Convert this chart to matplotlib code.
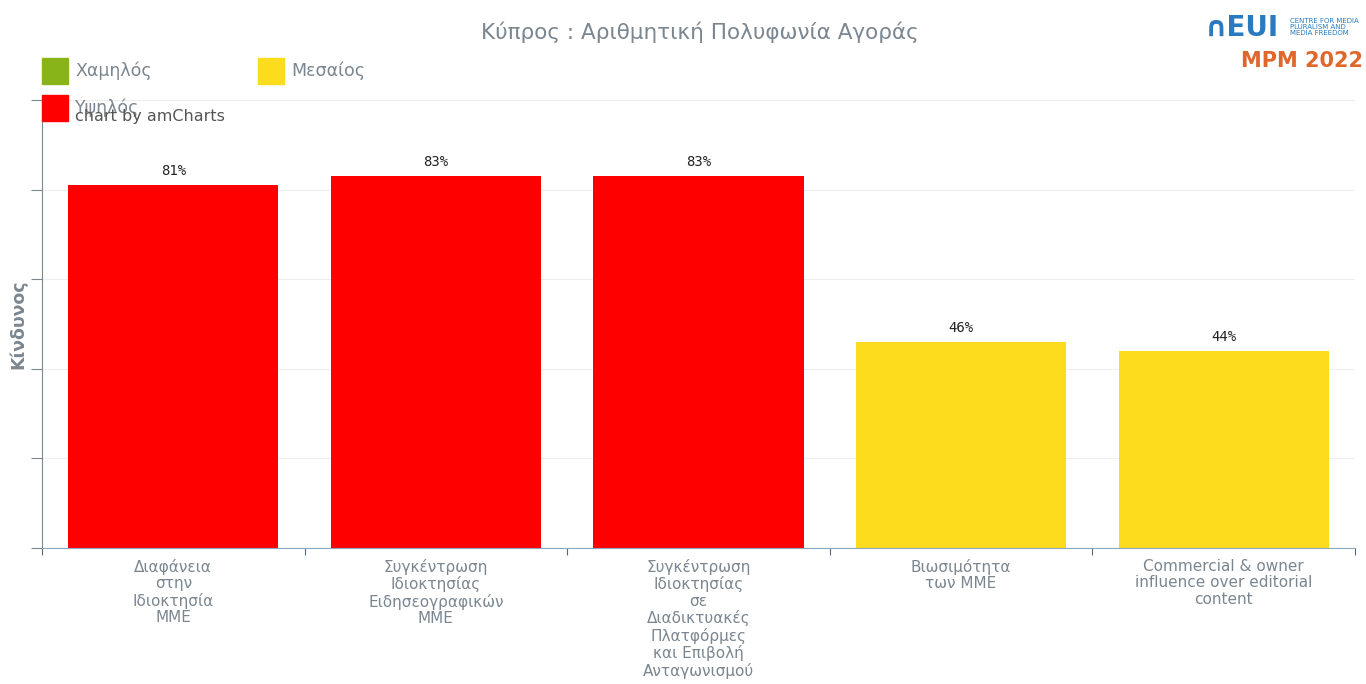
import matplotlib.pyplot as plt
from matplotlib.patches import Rectangle

categories = [
    "Διαφάνεια\nστην\nΙδιοκτησία\nΜΜΕ",
    "Συγκέντρωση\nΙδιοκτησίας\nΕιδησεογραφικών\nΜΜΕ",
    "Συγκέντρωση\nΙδιοκτησίας\nσε\nΔιαδικτυακές\nΠλατφόρμες\nκαι Επιβολή\nΑνταγωνισμού",
    "Βιωσιμότητα\nτων ΜΜΕ",
    "Commercial & owner\ninfluence over editorial\ncontent",
]
values = [81, 83, 83, 46, 44]
bar_colors = ["#ff0000", "#ff0000", "#ff0000", "#fcdc1c", "#fcdc1c"]
legend_labels = ["Χαμηλός", "Μεσαίος", "Υψηλός"]
legend_colors = ["#88b41a", "#fcdc1c", "#ff0000"]

grey = "#7a8690"

fig = plt.figure(figsize=(13.66, 6.84), dpi=100)
ax = fig.add_axes([42 / 1366, 1 - 548 / 684, 1313 / 1366, 448 / 684])

x = range(len(values))
ax.bar(x, values, width=0.8, color=bar_colors, zorder=2)
for xi, v in zip(x, values):
    ax.text(xi, v + 1.5, f"{v}%", ha="center", va="bottom", fontsize=10,
            family="DejaVu Sans Mono", color="#222222")

ax.set_xlim(-0.5, len(values) - 0.5)
ax.set_ylim(0, 100)
ax.set_yticks([0, 20, 40, 60, 80, 100])
ax.set_yticklabels([])
ax.tick_params(axis="y", direction="out", length=8, color=grey)
ax.grid(axis="y", color="#eeeeee", linewidth=0.8, zorder=0)

ax.set_xticks([i + 0.5 for i in range(-1, len(values))])
ax.set_xticklabels([])
ax.tick_params(axis="x", direction="out", length=5, color="#4a6a85")
for i, lab in enumerate(categories):
    ax.text(i, -2.4, lab, ha="center", va="top", fontsize=11, color=grey,
            linespacing=1.12)

for s in ["top", "right"]:
    ax.spines[s].set_visible(False)
ax.spines["left"].set_color(grey)
ax.spines["bottom"].set_color("#8aa8c0")

fig.text(18 / 1366, 1 - 324 / 684, "Κίνδυνος", rotation=90, ha="center", va="center",
         fontsize=12.5, fontweight="bold", color=grey)

fig.text(700 / 1366, 1 - 32 / 684, "Κύπρος : Αριθμητική Πολυφωνία Αγοράς",
         ha="center", va="center", fontsize=15.5, color=grey)

# legend
legend_pos = [(42, 71), (258, 71), (42, 108)]
for (lx, ly), lab, col in zip(legend_pos, legend_labels, legend_colors):
    fig.patches.append(Rectangle((lx / 1366, 1 - (ly + 13) / 684), 26 / 1366, 26 / 684,
                                 transform=fig.transFigure, color=col, figure=fig))
    fig.text((lx + 33) / 1366, 1 - ly / 684, lab, ha="left", va="center",
             fontsize=12.5, color=grey)
fig.text(75 / 1366, 1 - 116 / 684, "chart by amCharts", ha="left", va="center",
         fontsize=11.5, color="#555555")

# logo
fig.text(1205 / 1366, 1 - 28 / 684, "∩EUI", ha="left", va="center", fontsize=20,
         fontweight="bold", color="#2a7abf")
fig.text(1290 / 1366, 1 - 27 / 684, "CENTRE FOR MEDIA\nPLURALISM AND\nMEDIA FREEDOM",
         ha="left", va="center", fontsize=5, color="#2a7abf", linespacing=1.0)
fig.text(1302 / 1366, 1 - 61 / 684, "MPM 2022", ha="center", va="center", fontsize=15,
         fontweight="bold", color="#e0662a")

fig.savefig("out.png", dpi=100)
